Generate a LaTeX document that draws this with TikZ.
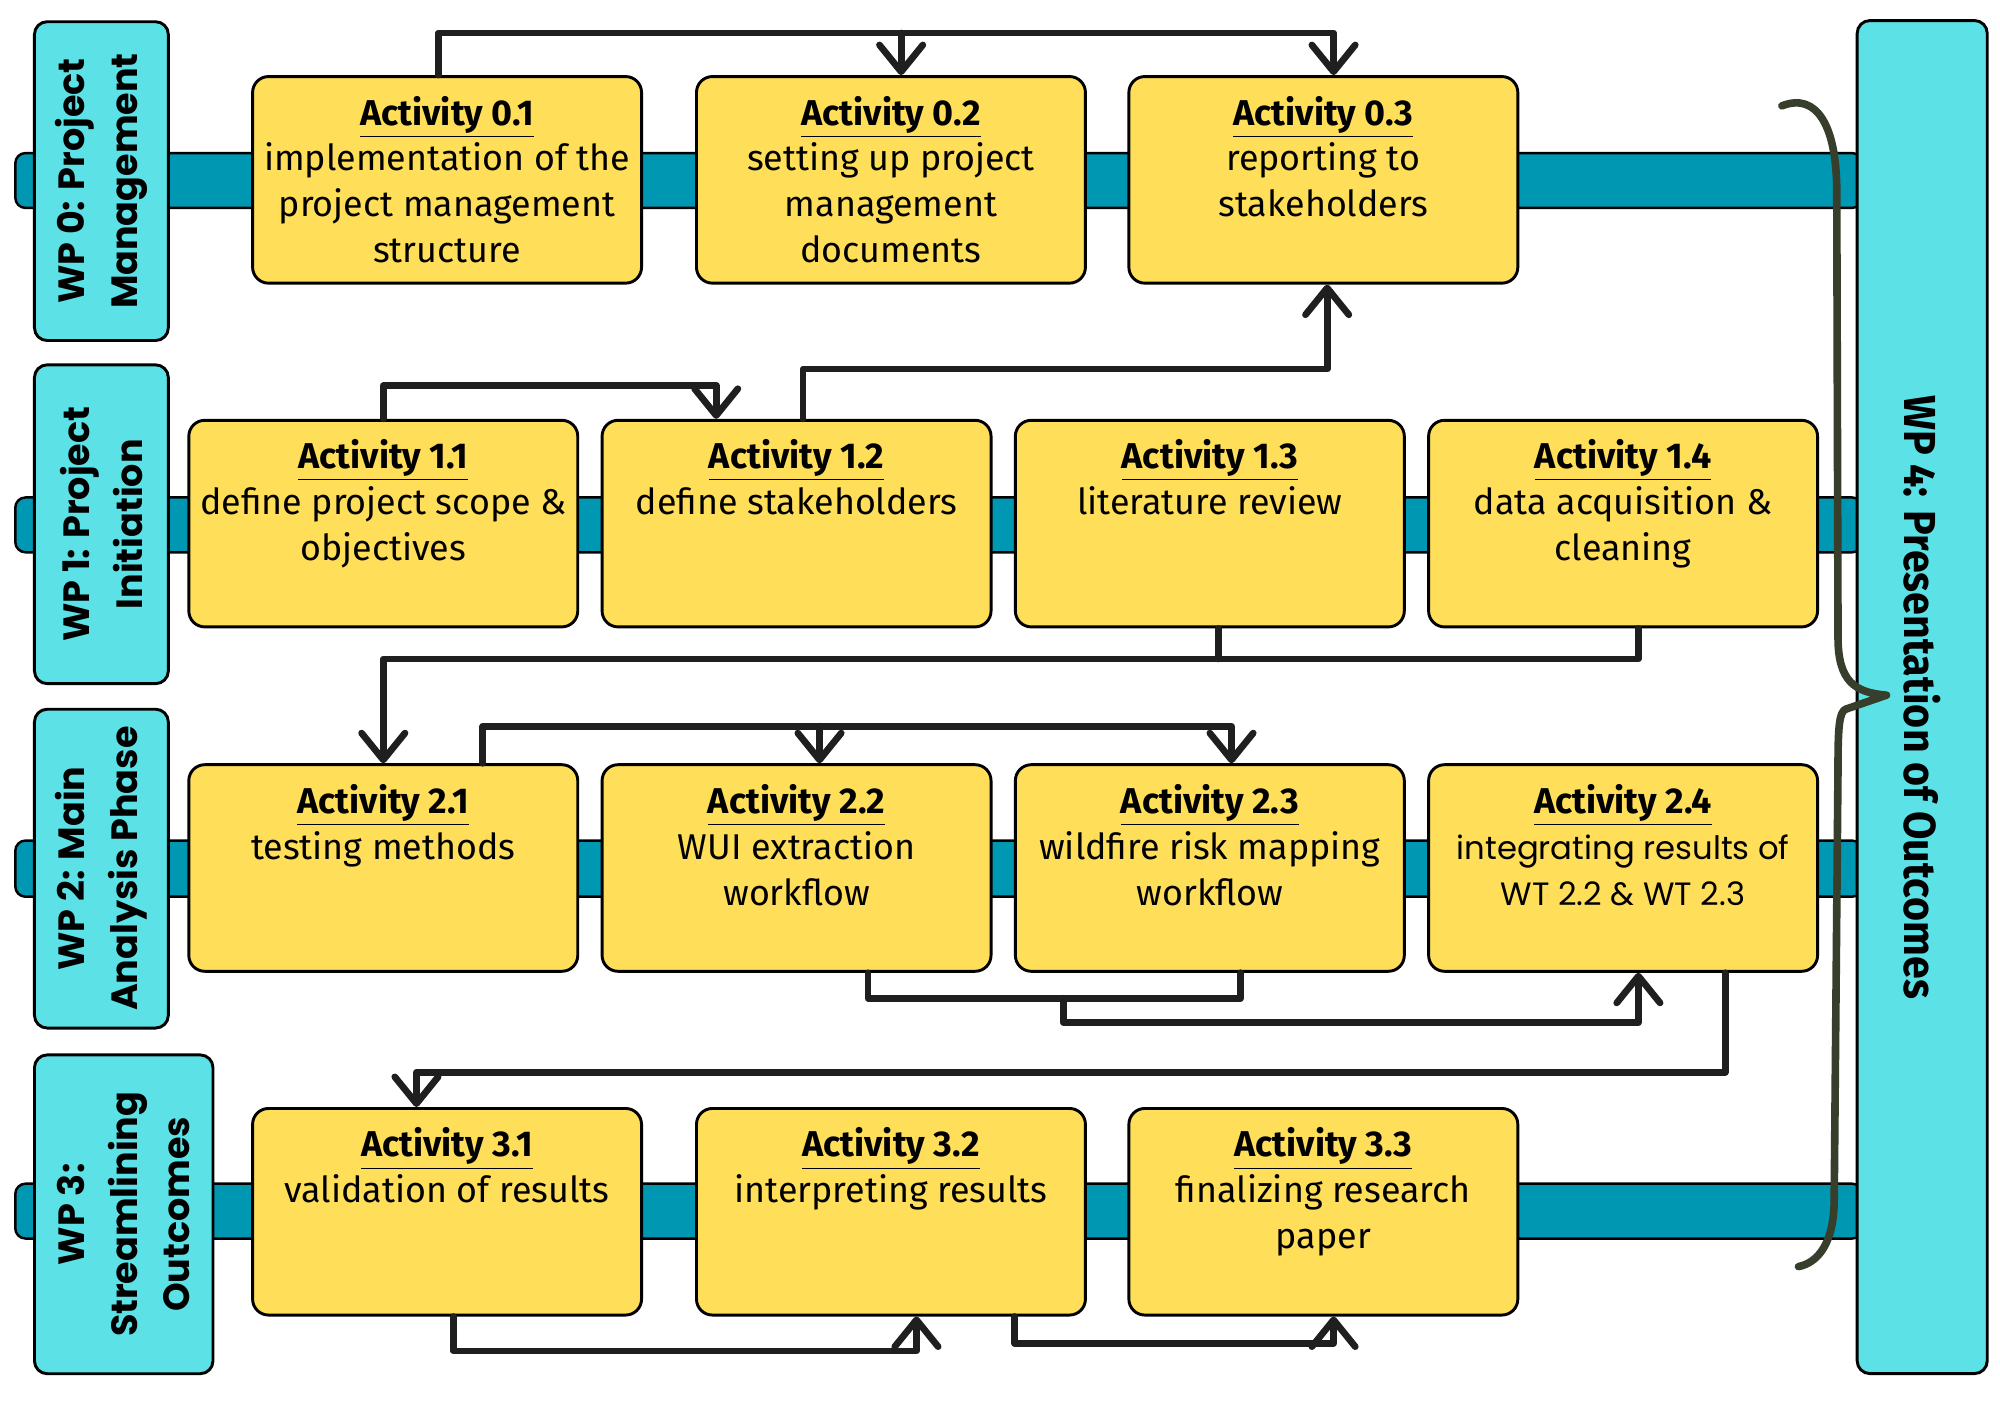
\documentclass[tikz,border=0pt]{standalone}
\usepackage{fontspec}
\setmainfont{Fira Sans}
\newfontfamily\wpfont{Poppins}
\newfontfamily\widefont{Poppins}
\newfontfamily\tallfont{Fira Sans}[FakeStretch=0.92]
\usetikzlibrary{calc,arrows.meta}

\definecolor{wpcyan}{HTML}{5CE1E6}
\definecolor{barteal}{HTML}{0097B2}
\definecolor{actyellow}{HTML}{FFDE59}
\definecolor{braceolive}{HTML}{373E2C}
\definecolor{arrowblack}{HTML}{1F1F1F}

\newcommand\acttitle[1]{\underline{\textbf{#1}}}

\begin{document}
\begin{tikzpicture}[x=0.02cm, y=-0.02cm,
  wp/.style = {draw, line width=1.3pt, fill=wpcyan, rounded corners=0.2cm, rotate=90, align=center, inner sep=0pt, minimum width=5cm, minimum height=2.1cm, font=\wpfont\bfseries\fontsize{16.3}{23.5}\selectfont},
  wpside/.style = {draw, line width=1.3pt, fill=wpcyan, rounded corners=0.2cm, rotate=-90, align=center, inner sep=0pt, minimum width=21.22cm, minimum height=2.04cm, font=\tallfont\bfseries\fontsize{20}{24}\selectfont},
  act/.style = {draw, line width=1.3pt, fill=actyellow, rounded corners=0.25cm, minimum width=6.1cm, minimum height=3.24cm},
  acttext/.style = {anchor=north, yshift=-0.32cm, inner sep=0pt, align=center, font=\fontsize{16}{20.5}\selectfont},
  bar/.style = {draw, line width=1.1pt, fill=barteal, rounded corners=0.16cm},
  link/.style = {draw=arrowblack, line width=3pt, line cap=round, line join=round, -{Straight Barb[round, length=0.42cm, width=0.68cm]}},
  joinline/.style = {draw=arrowblack, line width=3pt, line cap=round, line join=round},
  brace/.style = {draw=braceolive, line width=3.4pt, line cap=round, line join=round}]

\useasboundingbox (0,0) rectangle (1568,1109);

\draw[bar] (12,120) rectangle (1460,163);
\draw[bar] (12,390) rectangle (1460,433);
\draw[bar] (12,659) rectangle (1460,703);
\draw[bar] (12,928) rectangle (1460,971);

\node[wp] (wp0) at (79.5,142) {WP 0: Project\\Management};
\node[wp] (wp1) at (79.5,411) {WP 1: Project\\Initiation};
\node[wp] (wp2) at (79.5,681) {WP 2: Main\\Analysis Phase};
\node[wp, minimum height=2.8cm] (wp3) at (97,952) {WP 3:\\Streamlining\\Outcomes};
\node[wpside] (wp4) at (1507,546.5) {WP 4: Presentation of Outcomes};

\node[act] (a01) at (350.5,141) {};
\node[act] (a02) at (698.5,141) {};
\node[act] (a03) at (1037.5,141) {};
\node[act] (a11) at (300.5,410.5) {};
\node[act] (a12) at (624.5,410.5) {};
\node[act] (a13) at (948.5,410.5) {};
\node[act] (a14) at (1272.5,410.5) {};
\node[act] (a21) at (300.5,680.5) {};
\node[act] (a22) at (624.5,680.5) {};
\node[act] (a23) at (948.5,680.5) {};
\node[act] (a24) at (1272.5,680.5) {};
\node[act] (a31) at (350.5,950) {};
\node[act] (a32) at (698.5,950) {};
\node[act] (a33) at (1037.5,950) {};

\node[acttext] (t01) at (a01.north) {\acttitle{Activity 0.1}\\implementation of the\\project management\\structure};
\node[acttext] (t02) at (a02.north) {\acttitle{Activity 0.2}\\setting up project\\management\\documents};
\node[acttext] (t03) at (a03.north) {\acttitle{Activity 0.3}\\reporting to\\stakeholders};
\node[acttext] (t11) at (a11.north) {\acttitle{Activity 1.1}\\define project scope \&\\objectives};
\node[acttext] (t12) at (a12.north) {\acttitle{Activity 1.2}\\define stakeholders};
\node[acttext] (t13) at (a13.north) {\acttitle{Activity 1.3}\\literature review};
\node[acttext] (t14) at (a14.north) {\acttitle{Activity 1.4}\\data acquisition \&\\cleaning};
\node[acttext] (t21) at (a21.north) {\acttitle{Activity 2.1}\\testing methods};
\node[acttext] (t22) at (a22.north) {\acttitle{Activity 2.2}\\WUI extraction\\workflow};
\node[acttext] (t23) at (a23.north) {\acttitle{Activity 2.3}\\wildfire risk mapping\\workflow};
\node[acttext] (t24) at (a24.north) {\acttitle{Activity 2.4}\\{\widefont\fontsize{14.4}{20.5}\selectfont integrating results of}\\{\widefont\fontsize{14.4}{20.5}\selectfont WT 2.2 \& WT 2.3}};
\node[acttext] (t31) at (a31.north) {\acttitle{Activity 3.1}\\validation of results};
\node[acttext] (t32) at (a32.north) {\acttitle{Activity 3.2}\\interpreting results};
\node[acttext] (t33) at (a33.north) {\acttitle{Activity 3.3}\\finalizing research\\paper};

\draw[link] ($(a01.north)+(-7,0)$) -- ++(0,-33) -| ($(a03.north)+(8,0)$);
\draw[link] ($(a02.north)+(8,-33)$) -- ($(a02.north)+(8,0)$);
\draw[link] (a11.north) -- ++(0,-26) -| ($(a12.north)+(-63,0)$);
\draw[link] ($(a12.north)+(5,0)$) -- ++(0,-39) -| ($(a03.south)+(3,0)$);
\draw[joinline] ($(a13.south)+(7,0)$) -- ++(0,24);
\draw[link] ($(a14.south)+(12,0)$) -- ++(0,24) -| (a21.north);
\draw[link] ($(a21.north)+(78,0)$) -- ++(0,-29) -| ($(a23.north)+(17,0)$);
\draw[link] ($(a22.north)+(18,-29)$) -- ($(a22.north)+(18,0)$);
\draw[joinline] ($(a22.south)+(56,0)$) -- ++(0,20) -| ($(a23.south)+(24,0)$);
\draw[link] ($(a22.south)+(209,20)$) -- ++(0,19) -| ($(a24.south)+(12,0)$);
\draw[link] ($(a24.south)+(80,0)$) -- ++(0,78) -| ($(a31.north)+(-24,0)$);
\draw[link] ($(a31.south)+(5,0)$) -- ++(0,27) -| ($(a32.south)+(20,0)$);
\draw[link] ($(a32.south)+(97,0)$) -- ++(0,21) -| ($(a33.south)+(8,0)$);

\draw[brace] (1397,83) .. controls (1425,72) and (1440,100) .. (1440,150)
  -- (1441,500) .. controls (1441,535) and (1455,543) .. (1479,545)
  -- (1447,556) .. controls (1442,558) and (1441,570) .. (1441,600)
  -- (1438,940) .. controls (1438,975) and (1425,990) .. (1410,993);
\end{tikzpicture}
\end{document}
